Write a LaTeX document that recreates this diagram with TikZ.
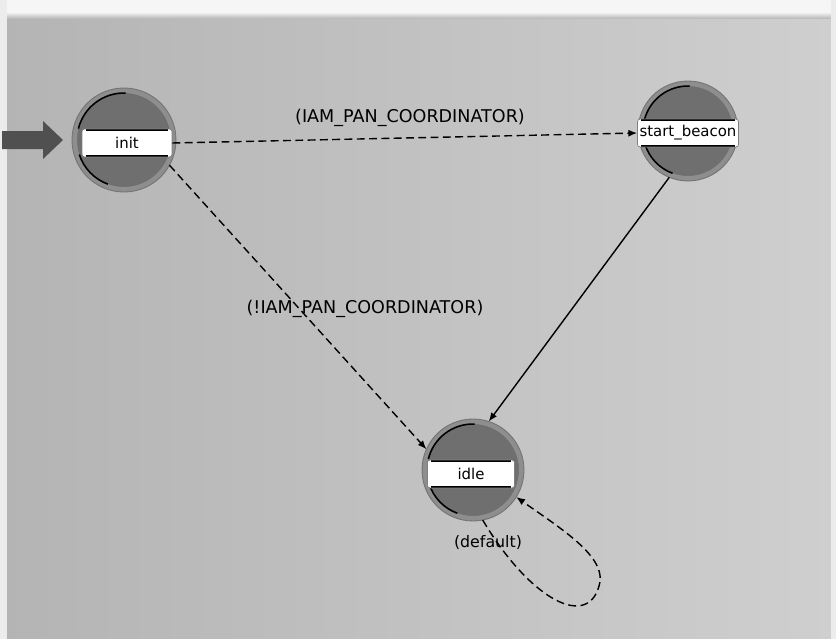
\documentclass[tikz,border=0pt]{standalone}
\usepackage{fontspec}
\setmainfont{DejaVu Sans}
\usetikzlibrary{arrows.meta}

\definecolor{bgleft}{HTML}{B4B4B4}
\definecolor{bgright}{HTML}{CFCFCF}
\definecolor{ringgray}{HTML}{8E8E8E}
\definecolor{stategray}{HTML}{6F6F6F}
\definecolor{entrygray}{HTML}{505050}

\tikzset{
  statenode/.style={circle, fill=stategray, draw=ringgray, line width=0.1cm, inner sep=0pt},
  stateedge/.style={draw=black!55, line width=0.5pt},
  statearc/.style={draw=black, line width=0.9pt},
  namebox/.style={rectangle, rounded corners=1.5pt,
    fill=white, draw=black!50, line width=0.4pt, inner sep=0pt, minimum height=0.56cm,
    font=\fontsize{8.5}{10}\selectfont,
    path picture={
      \draw[black, line width=2pt] ([xshift=2pt]path picture bounding box.north west) -- ([xshift=-2pt]path picture bounding box.north east);
      \draw[black, line width=2pt] ([xshift=2pt]path picture bounding box.south west) -- ([xshift=-2pt]path picture bounding box.south east);
    }},
  trans/.style={draw=black, line width=0.8pt, -{Latex[length=5pt,width=4pt]}},
  condtrans/.style={trans, dash pattern=on 4.5pt off 2.5pt},
  condlabel/.style={font=\fontsize{10}{12}\selectfont, inner sep=1pt},
}

\begin{document}
\begin{tikzpicture}[x=0.02cm, y=-0.02cm]
  % background
  \shade[left color=bgleft, right color=bgright] (0,0) rectangle (836,639);
  \fill[white!93!gray] (0,0) rectangle (836,13);
  \shade[top color=white!93!gray, bottom color=bgleft!70!bgright] (0,12) rectangle (836,18);
  \fill[white!85!gray] (0,0) rectangle (7,639);
  \fill[white!85!gray] (831,0) rectangle (836,639);
  \useasboundingbox (0,0) rectangle (836,639);

  % states
  \node[statenode, minimum size=1.98cm] (init) at (124,140) {};
  \node[statenode, minimum size=1.90cm] (beacon) at (688,131) {};
  \node[statenode, minimum size=1.94cm] (idle) at (473,470) {};

  % outer rims and inner arcs
  \foreach \s/\r in {init/1.04, beacon/1.0, idle/1.02} {
    \draw[stateedge] (\s) circle[radius=\r cm];
    \draw[statearc] ([shift={(88:\r cm-0.1cm)}]\s.center) arc[start angle=88, end angle=166, radius=\r cm-0.1cm];
    \draw[statearc] ([shift={(198:\r cm-0.1cm)}]\s.center) arc[start angle=198, end angle=250, radius=\r cm-0.1cm];
  }

  % state names
  \node[namebox, minimum width=1.80cm] (initlbl) at (127,143) {init};
  \node[namebox, minimum width=2.02cm] (beaconlbl) at (688,133) {start\_beacon};
  \node[namebox, minimum width=1.74cm] (idlelbl) at (471,474) {idle};

  % initial-state marker
  \fill[entrygray] (2,131) -- (43,131) -- (43,121) -- (63,140) -- (43,159) -- (43,149) -- (2,149) -- cycle;

  % transitions
  \draw[condtrans] (initlbl.east) -- (beaconlbl.west);
  \draw[condtrans] (init.-29) -- (idle.156);
  \draw[trans] (beacon.-112) -- (idle.72);
  \draw[condtrans] (idle.-79) .. controls (530,600) and (590,632) .. (600,582)
                   .. controls (604,555) and (560,528) .. (idle.-32);

  % transition conditions
  \node[condlabel] (c1) at (410,118) {(IAM\_PAN\_COORDINATOR)};
  \node[condlabel] (c2) at (365,309) {(!IAM\_PAN\_COORDINATOR)};
  \node[condlabel, font=\fontsize{9}{11}\selectfont] (c3) at (488,543) {(default)};
\end{tikzpicture}
\end{document}
